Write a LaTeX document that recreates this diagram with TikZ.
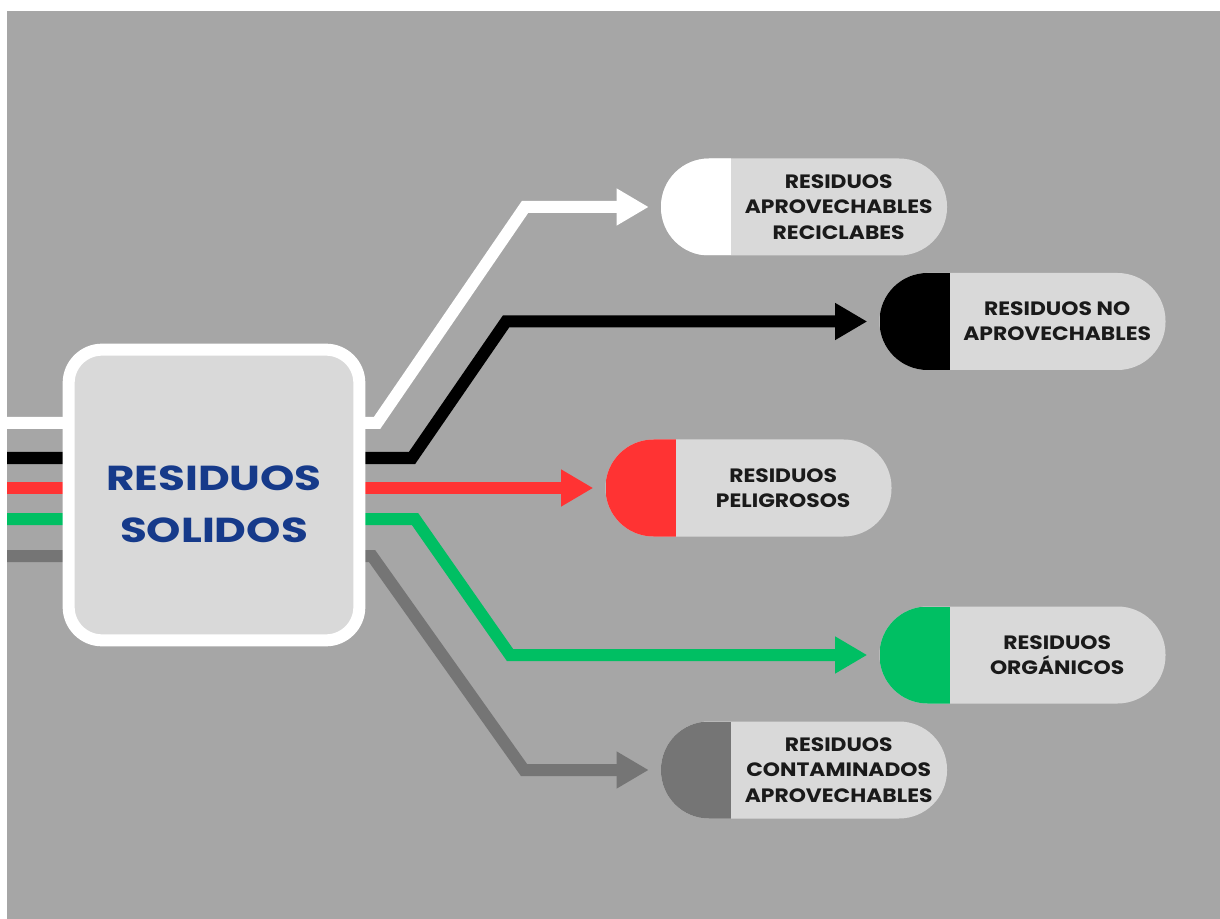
\documentclass[tikz,border=0pt]{standalone}
\usepackage{fontspec}
\setmainfont{Poppins}
\newfontfamily\wideTitle[FakeStretch=1.26]{Poppins}
\newfontfamily\wideLabel[FakeStretch=1.13]{Poppins}
\usetikzlibrary{arrows.meta,backgrounds}

\definecolor{bggray}{RGB}{166,166,166}
\definecolor{pillgray}{RGB}{217,217,217}
\definecolor{wasteRed}{RGB}{255,51,51}
\definecolor{wasteGreen}{RGB}{0,191,99}
\definecolor{wasteGray}{RGB}{117,117,117}
\definecolor{titleBlue}{RGB}{22,58,138}
\definecolor{labelInk}{RGB}{26,26,26}

\tikzset{
  flow/.style={line width=9pt, color=#1, -{Triangle[length=24pt,width=26pt]}, shorten >=9pt},
  hub/.style={draw=white, line width=9pt, fill=pillgray, rounded corners=25pt, minimum width=218pt, minimum height=218pt},
  hubtext/.style={align=center, text=titleBlue, font=\wideTitle\fontsize{26}{39}\selectfont\bfseries},
  pill/.style={rounded corners=36pt, minimum width=214.5pt, minimum height=72.75pt, inner sep=0pt, fill=pillgray,
    path picture={\fill[#1, sharp corners] (path picture bounding box.south west) rectangle ([xshift=52.5pt]path picture bounding box.north west);}},
  pilltext/.style={align=center, text=labelInk, font=\wideLabel\fontsize{14.5}{19}\selectfont\bfseries}
}

\begin{document}
\begin{tikzpicture}[x=0.75pt,y=0.75pt,yscale=-1,xscale=1]
\useasboundingbox (0,0) rectangle (1220,919);

% Central box
\node[hub] (hub) at (214,495) {};
\node[hubtext] (hubText) at ([yshift=7pt]hub.center) {RESIDUOS\\SOLIDOS};

% Pills
\node[pill=white] (reciclables) at (804,207) {};
\node[pilltext] (reciclablesText) at ([xshift=26pt]reciclables.center) {RESIDUOS\\APROVECHABLES\\RECICLABES};
\node[pill=black] (noAprov) at (1022.5,321.5) {};
\node[pilltext] (noAprovText) at ([xshift=26pt]noAprov.center) {RESIDUOS NO\\APROVECHABLES};
\node[pill=wasteRed] (peligrosos) at (748.5,488) {};
\node[pilltext] (peligrososText) at ([xshift=26pt]peligrosos.center) {RESIDUOS\\PELIGROSOS};
\node[pill=wasteGreen] (organicos) at (1022.5,655) {};
\node[pilltext] (organicosText) at ([xshift=26pt]organicos.center) {RESIDUOS\\ORGÁNICOS};
\node[pill=wasteGray] (contaminados) at (804,770) {};
\node[pilltext] (contaminadosText) at ([xshift=26pt]contaminados.center) {RESIDUOS\\CONTAMINADOS\\APROVECHABLES};

% Incoming ends
\coordinate (inWhite) at (7,423);
\coordinate (inBlack) at (7,458);
\coordinate (inRed) at (7,488);
\coordinate (inGreen) at (7,519);
\coordinate (inGray) at (7,556);

\begin{scope}[on background layer]
\fill[bggray] (7,11) rectangle (1220,919);
%Straight Lines
\draw[flow=white] (inWhite) -- (377,423) -- (reciclables.west -| 525,0) -- (reciclables.west);
\draw[flow=black] (inBlack) -- (412,458) -- (noAprov.west -| 506,0) -- (noAprov.west);
\draw[flow=wasteRed] (inRed) -- (peligrosos.west);
\draw[flow=wasteGreen] (inGreen) -- (415,519) -- (organicos.west -| 510,0) -- (organicos.west);
\draw[flow=wasteGray] (inGray) -- (372,556) -- (contaminados.west -| 524,0) -- (contaminados.west);
\end{scope}

\end{tikzpicture}
\end{document}
